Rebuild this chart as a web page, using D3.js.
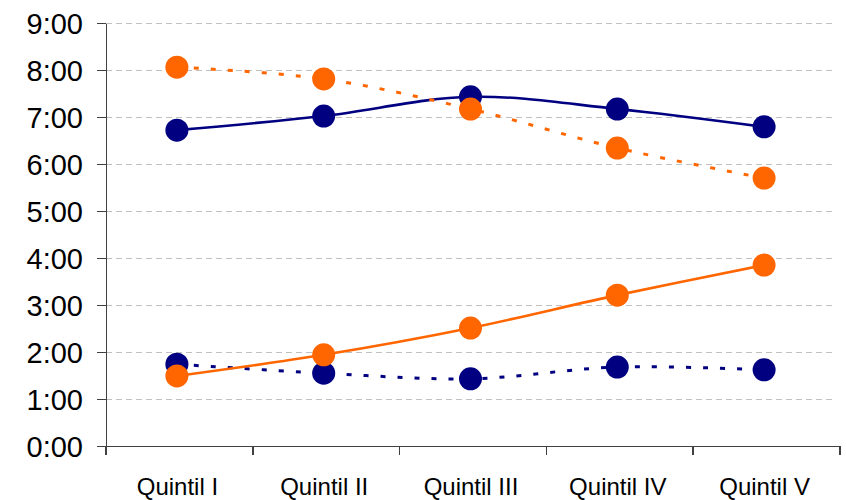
<!DOCTYPE html>
<meta charset="utf-8">
<style>
    body { margin: 0; background: #fff; }
    .axis text { font-family: "Liberation Sans", Arial, sans-serif; fill: #000; }
    .axis path, .axis line { stroke: #404040; stroke-width: 1.5px; shape-rendering: crispEdges; }
    .grid line { stroke: #c0c0c0; stroke-width: 1px; stroke-dasharray: 6,4; shape-rendering: crispEdges; }
</style>
<body>
<svg width="846" height="500"></svg>
<script src="https://d3js.org/d3.v7.min.js"></script>
<script>
    // values in hours
    var categories = ["Quintil I", "Quintil II", "Quintil III", "Quintil IV", "Quintil V"];
    var yTicks = [0, 1, 2, 3, 4, 5, 6, 7, 8, 9];
    var navySolid = [6.72, 7.02, 7.43, 7.17, 6.79];
    var navyDotted = [1.74, 1.55, 1.43, 1.68, 1.62];
    var orangeSolid = [1.49, 1.94, 2.51, 3.21, 3.85];
    var orangeDotted = [8.06, 7.81, 7.17, 6.34, 5.70];

    var series = [
        { values: navySolid, color: "#000080", dash: null },
        { values: navyDotted, color: "#000080", dash: "5,12" },
        { values: orangeSolid, color: "#FF6600", dash: null },
        { values: orangeDotted, color: "#FF6600", dash: "5,12" }
    ];

    var svg = d3.select("svg"),
        margin = { top: 23, right: 6, bottom: 54, left: 106 },
        width = +svg.attr("width") - margin.left - margin.right,
        height = +svg.attr("height") - margin.top - margin.bottom;

    var x = d3.scaleBand().domain(categories).range([0, width]);
    var y = d3.scaleLinear().domain([0, 9]).range([height, 0]);

    var g = svg.append("g")
        .attr("transform", "translate(" + margin.left + "," + margin.top + ")");

    g.append("g")
        .attr("class", "grid")
        .selectAll("line")
        .data(yTicks.filter(function (d) { return d > 0; }))
        .enter().append("line")
        .attr("x1", 0)
        .attr("x2", width - 4)
        .attr("y1", function (d) { return y(d); })
        .attr("y2", function (d) { return y(d); });

    function fmt(d) { return d + ":00"; }

    g.append("g")
        .attr("class", "axis axis--y")
        .call(d3.axisLeft(y).tickValues(yTicks).tickFormat(fmt).tickSize(9).tickSizeOuter(0).tickPadding(14))
        .selectAll("text")
        .style("font-size", "29px")
        .attr("dy", "0.36em");

    var xAxis = g.append("g")
        .attr("class", "axis axis--x")
        .attr("transform", "translate(0," + height + ")")
        .call(d3.axisBottom(x).tickSize(0).tickSizeOuter(0));
    xAxis.selectAll("text")
        .style("font-size", "24px")
        .attr("x", -2)
        .attr("y", 49)
        .attr("dy", 0);

    // tick marks at band boundaries
    xAxis.selectAll(".bound")
        .data(d3.range(categories.length + 1))
        .enter().append("line")
        .attr("class", "bound")
        .attr("x1", function (i) { return i * x.step(); })
        .attr("x2", function (i) { return i * x.step(); })
        .attr("y1", 0)
        .attr("y2", 9);

    function cx(i) { return x(categories[i]) + x.bandwidth() / 2 - 2.5; }

    var line = d3.line()
        .x(function (d, i) { return cx(i); })
        .y(function (d) { return y(d); })
        .curve(d3.curveCatmullRom.alpha(0.5));

    series.forEach(function (s) {
        g.append("path")
            .datum(s.values)
            .attr("fill", "none")
            .attr("stroke", s.color)
            .attr("stroke-width", s.dash ? 3 : 2.6)
            .attr("stroke-dasharray", s.dash)
            .attr("d", line);
    });

    series.forEach(function (s) {
        g.selectAll(null)
            .data(s.values)
            .enter().append("circle")
            .attr("cx", function (d, i) { return cx(i); })
            .attr("cy", function (d) { return y(d); })
            .attr("r", 11.5)
            .attr("fill", s.color);
    });
</script>
</body>
